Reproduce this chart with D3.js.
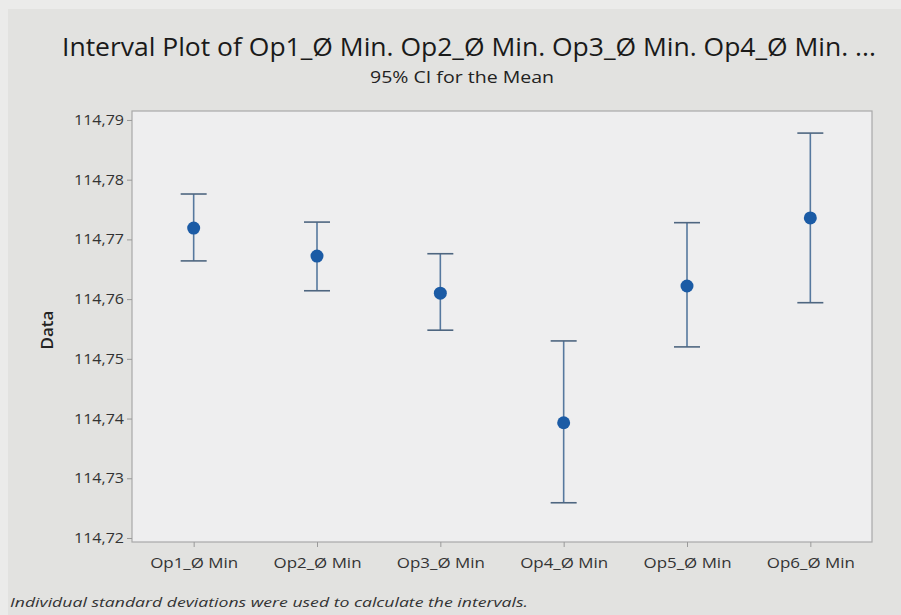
<!DOCTYPE html>
<html>
<head>
<meta charset="utf-8">
<script src="https://cdn.jsdelivr.net/npm/d3@7"></script>
<style>
  html, body { margin: 0; padding: 0; background: #ececeb; }
  svg { display: block; }
</style>
</head>
<body>
<svg id="chart" width="901" height="615"></svg>
<script>
// Interval plot: mean with 95% confidence interval per operation
const categories = ["Op1_Ø Min", "Op2_Ø Min", "Op3_Ø Min", "Op4_Ø Min", "Op5_Ø Min", "Op6_Ø Min"];
const means = [114.7719, 114.7672, 114.7610, 114.7393, 114.7622, 114.7736];
const lowerCI = [114.7664, 114.7614, 114.7548, 114.7259, 114.7520, 114.7594];
const upperCI = [114.7776, 114.7729, 114.7676, 114.7530, 114.7728, 114.7878];
const yTicks = [114.72, 114.73, 114.74, 114.75, 114.76, 114.77, 114.78, 114.79];

const titleText = "Interval Plot of Op1_Ø Min. Op2_Ø Min. Op3_Ø Min. Op4_Ø Min. ...";
const subtitleText = "95% CI for the Mean";
const yLabel = "Data";
const footnote = "Individual standard deviations were used to calculate the intervals.";

const rows = categories.map((c, i) => ({ cat: c, mean: means[i], lo: lowerCI[i], hi: upperCI[i] }));

const W = 901, H = 615;
const plot = { left: 132, top: 111, right: 872, bottom: 542 };

const svg = d3.select("#chart");
const font = "'Open Sans', 'Noto Sans', sans-serif";

// Panel background
svg.append("rect").attr("x", 0).attr("y", 0).attr("width", W).attr("height", H).attr("fill", "#ebebea");
svg.append("rect").attr("x", 8).attr("y", 9).attr("width", W - 8).attr("height", H - 9).attr("fill", "#e2e2e0");

const x = d3.scalePoint().domain(categories).range([plot.left, plot.right]).padding(0.5);
const y = d3.scaleLinear().domain([114.71933, 114.7915]).range([plot.bottom, plot.top]);

const locale = d3.formatLocale({ decimal: ",", thousands: ".", grouping: [3], currency: ["", ""] });
const fmt = locale.format(".2f");

// Data region
svg.append("rect")
  .attr("x", plot.left).attr("y", plot.top)
  .attr("width", plot.right - plot.left).attr("height", plot.bottom - plot.top)
  .attr("fill", "#eeeeef").attr("stroke", "#a8a8a8").attr("stroke-width", 1.2);

// Y axis
const yAxis = svg.append("g")
  .attr("transform", `translate(${plot.left},0)`)
  .call(d3.axisLeft(y).tickValues(yTicks).tickFormat(fmt).tickSize(5).tickPadding(3));
yAxis.select(".domain").remove();
yAxis.selectAll(".tick line").attr("stroke", "#9a9a9a");
yAxis.selectAll(".tick text")
  .attr("fill", "#333333").attr("textLength", 50).attr("lengthAdjust", "spacingAndGlyphs")
  .style("font-family", font).style("font-size", "14px").style("font-weight", "500");

// X axis
const xAxis = svg.append("g")
  .attr("transform", `translate(0,${plot.bottom})`)
  .call(d3.axisBottom(x).tickSize(5).tickPadding(10));
xAxis.select(".domain").remove();
xAxis.selectAll(".tick line").attr("stroke", "#9a9a9a");
xAxis.selectAll(".tick text")
  .attr("fill", "#333333").attr("textLength", 88).attr("lengthAdjust", "spacingAndGlyphs")
  .style("font-family", font).style("font-size", "15px").style("font-weight", "500");

// Interval whiskers
const capHalf = 13;
const lineColor = "#56789e";
const g = svg.append("g");
g.selectAll("line.whisker").data(rows).join("line")
  .attr("class", "whisker")
  .attr("x1", d => x(d.cat)).attr("x2", d => x(d.cat))
  .attr("y1", d => y(d.hi)).attr("y2", d => y(d.lo))
  .attr("stroke", lineColor).attr("stroke-width", 1.6);
g.selectAll("line.capHi").data(rows).join("line")
  .attr("class", "capHi")
  .attr("x1", d => x(d.cat) - capHalf).attr("x2", d => x(d.cat) + capHalf)
  .attr("y1", d => y(d.hi)).attr("y2", d => y(d.hi))
  .attr("stroke", "#4e6680").attr("stroke-width", 1.6);
g.selectAll("line.capLo").data(rows).join("line")
  .attr("class", "capLo")
  .attr("x1", d => x(d.cat) - capHalf).attr("x2", d => x(d.cat) + capHalf)
  .attr("y1", d => y(d.lo)).attr("y2", d => y(d.lo))
  .attr("stroke", "#4e6680").attr("stroke-width", 1.6);

// Means
g.selectAll("circle").data(rows).join("circle")
  .attr("cx", d => x(d.cat)).attr("cy", d => y(d.mean))
  .attr("r", 6.5).attr("fill", "#1b5ba5");

// Titles
svg.append("text").attr("x", 469).attr("y", 56).attr("text-anchor", "middle")
  .attr("textLength", 814).attr("lengthAdjust", "spacingAndGlyphs")
  .style("font-family", font).style("font-size", "25px").style("font-weight", "500")
  .attr("fill", "#1a1a1a")
  .text(titleText);
svg.append("text").attr("x", 462).attr("y", 83).attr("text-anchor", "middle")
  .attr("textLength", 184).attr("lengthAdjust", "spacingAndGlyphs")
  .style("font-family", font).style("font-size", "17px").style("font-weight", "500")
  .attr("fill", "#222222")
  .text(subtitleText);

// Y axis title
svg.append("text")
  .attr("transform", "translate(53,330) rotate(-90)")
  .attr("text-anchor", "middle")
  .style("font-family", font).style("font-size", "17px").style("font-weight", "600")
  .attr("fill", "#222222")
  .text(yLabel);

// Footnote
svg.append("text").attr("x", 10).attr("y", 607)
  .attr("textLength", 518).attr("lengthAdjust", "spacingAndGlyphs")
  .style("font-family", font).style("font-size", "13px").style("font-style", "italic")
  .attr("fill", "#333333")
  .text(footnote);
</script>
</body>
</html>
